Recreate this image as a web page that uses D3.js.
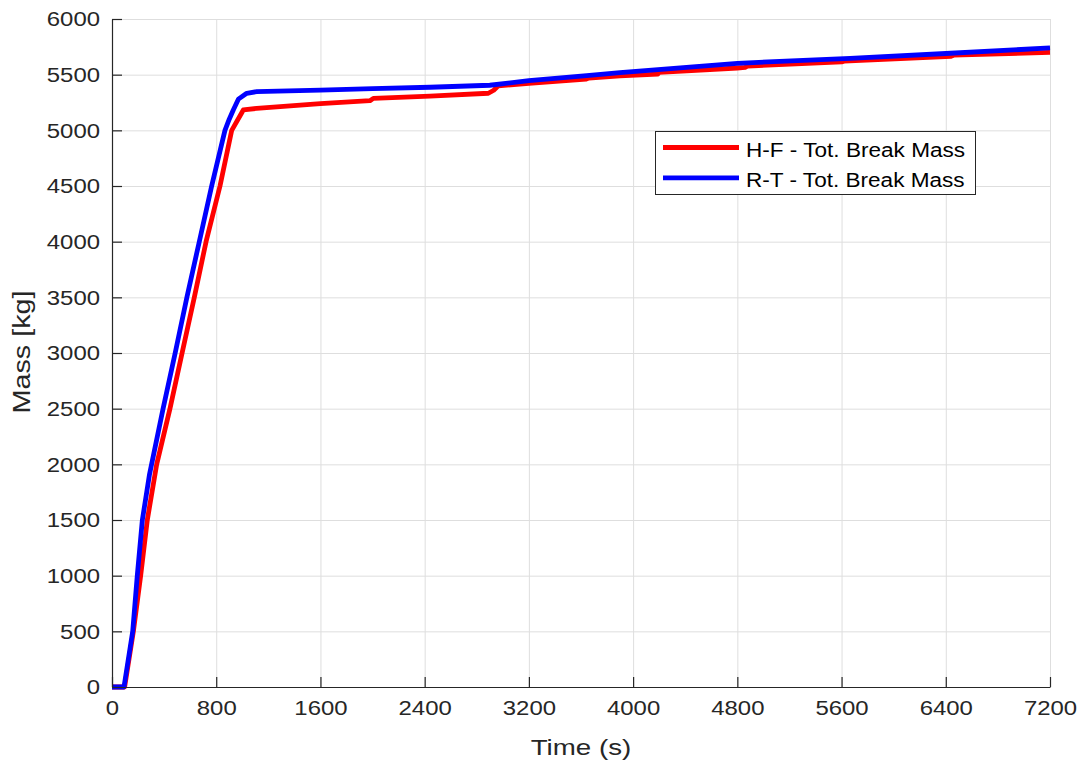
<!DOCTYPE html>
<html>
<head>
<meta charset="utf-8">
<script src="https://cdn.jsdelivr.net/npm/d3@7"></script>
<style>
  html, body { margin: 0; padding: 0; background: #ffffff; }
  svg { display: block; font-family: "Liberation Sans", Arial, Helvetica, sans-serif; }
</style>
</head>
<body>
<svg id="chart" width="1086" height="769"></svg>
<script>
// ---- data ----
const xTicks = [0, 800, 1600, 2400, 3200, 4000, 4800, 5600, 6400, 7200];
const yTicks = [0, 500, 1000, 1500, 2000, 2500, 3000, 3500, 4000, 4500, 5000, 5500, 6000];

const hfTime = [0, 97, 164, 220, 271, 343, 445, 538, 632, 722, 829, 919, 1008, 1110, 1600, 1980, 2006, 2441, 2889, 2930, 2965, 3200, 3640, 3660, 3899, 4190, 4200, 4800, 4860, 4880, 5600, 5620, 6440, 6460, 7200];
const hfMass = [0, 0, 500, 1000, 1500, 2000, 2500, 3000, 3500, 4000, 4500, 5000, 5183, 5197, 5240, 5266, 5287, 5308, 5333, 5360, 5400, 5422, 5460, 5470, 5490, 5505, 5520, 5560, 5565, 5578, 5615, 5622, 5665, 5675, 5700];

const rtTime = [0, 92, 159, 194, 233, 287, 392, 485, 575, 670, 765, 867, 900, 931, 970, 1034, 1110, 1600, 2000, 2441, 2900, 3200, 3644, 3899, 4800, 5665, 6400, 7200];
const rtMass = [0, 0, 500, 1000, 1500, 1904, 2500, 3000, 3500, 4000, 4500, 5000, 5100, 5183, 5280, 5333, 5347, 5362, 5375, 5387, 5405, 5446, 5491, 5518, 5602, 5647, 5690, 5740];

const seriesNames = ["H-F - Tot. Break Mass", "R-T - Tot. Break Mass"];
const seriesColors = ["#ff0000", "#0000ff"];
const xLabel = "Time (s)";
const yLabel = "Mass [kg]";

// ---- layout ----
const pLeft = 112, pRight = 1050, pTop = 19, pBottom = 687;
const svg = d3.select("#chart");

const x = d3.scaleLinear().domain([0, 7200]).range([pLeft, pRight]);
const y = d3.scaleLinear().domain([0, 6000]).range([pBottom, pTop]);

// grid
const grid = svg.append("g");
grid.selectAll("line.vx").data(xTicks).join("line")
  .attr("x1", d => x(d) + 0.5).attr("x2", d => x(d) + 0.5)
  .attr("y1", pTop).attr("y2", pBottom)
  .attr("stroke", "#dedede").attr("stroke-width", 1);
grid.selectAll("line.hy").data(yTicks).join("line")
  .attr("y1", d => y(d) + 0.5).attr("y2", d => y(d) + 0.5)
  .attr("x1", pLeft).attr("x2", pRight)
  .attr("stroke", "#dedede").attr("stroke-width", 1);

// series
const line = d3.line().x(d => x(d[0])).y(d => y(d[1]));
const hf = hfTime.map((t, i) => [t, hfMass[i]]);
const rt = rtTime.map((t, i) => [t, rtMass[i]]);
[hf, rt].forEach((data, i) => {
  svg.append("path").datum(data)
    .attr("d", line)
    .attr("fill", "none")
    .attr("stroke", seriesColors[i])
    .attr("stroke-width", 4.8)
    .attr("stroke-linejoin", "round");
});

// axes
const fmt = d3.format("d");
const xAxis = d3.axisBottom(x).tickValues(xTicks).tickFormat(fmt).tickSizeInner(-10).tickSizeOuter(0).tickPadding(13);
const yAxis = d3.axisLeft(y).tickValues(yTicks).tickFormat(fmt).tickSizeInner(-10).tickSizeOuter(0).tickPadding(12);

const gx = svg.append("g").attr("transform", `translate(0,${pBottom})`).call(xAxis);
const gy = svg.append("g").attr("transform", `translate(${pLeft},0)`).call(yAxis);
const tickScale = 1.14;
[gx, gy].forEach(g => {
  g.select(".domain").attr("stroke", "#262626").attr("stroke-width", 1.2);
  g.selectAll(".tick line").attr("stroke", "#262626").attr("stroke-width", 1.2);
  g.selectAll(".tick text").attr("fill", "#262626").style("font-size", "21px")
    .style("font-family", "'Liberation Sans', Arial, sans-serif");
});
gx.selectAll(".tick text").attr("transform", `scale(${tickScale},1)`);
gy.selectAll(".tick text").attr("x", -12 / tickScale).attr("transform", `scale(${tickScale},1)`);

// axis labels
svg.append("text")
  .attr("transform", `translate(${(pLeft + pRight) / 2},755) scale(1.26,1)`)
  .attr("text-anchor", "middle")
  .attr("fill", "#262626").style("font-size", "22px")
  .text(xLabel);
svg.append("text")
  .attr("transform", `translate(30,352) rotate(-90) scale(1.2,1)`)
  .attr("text-anchor", "middle")
  .attr("fill", "#262626").style("font-size", "24px")
  .text(yLabel);

// legend
const lg = svg.append("g");
lg.append("rect")
  .attr("x", 655.5).attr("y", 131.5).attr("width", 320).attr("height", 63)
  .attr("fill", "#ffffff").attr("stroke", "#262626").attr("stroke-width", 1);
seriesNames.forEach((name, i) => {
  const yy = 147.5 + i * 30.3;
  lg.append("line")
    .attr("x1", 663).attr("x2", 739).attr("y1", yy).attr("y2", yy)
    .attr("stroke", seriesColors[i]).attr("stroke-width", 4.8);
  lg.append("text")
    .attr("transform", `translate(746,${yy + 9.2}) scale(1.075,1)`)
    .attr("fill", "#000000").style("font-size", "21px")
    .text(name);
});
</script>
</body>
</html>
